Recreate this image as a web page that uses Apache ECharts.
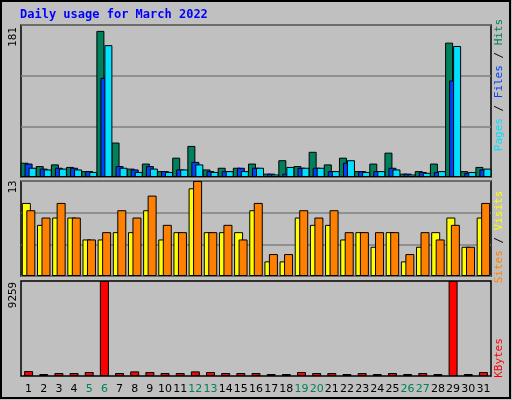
<!DOCTYPE html><html><head><meta charset="utf-8">
<script src="https://cdn.jsdelivr.net/npm/echarts@6/dist/echarts.min.js"></script>
<style>html,body{margin:0;padding:0;background:#c0c0c0}#c{width:512px;height:400px}</style></head><body><div id="c"></div>
<script>
const days=['1','2','3','4','5','6','7','8','9','10','11','12','13','14','15','16','17','18','19','20','21','22','23','24','25','26','27','28','29','30','31'];
const weekend=['5','6','12','13','19','20','26','27'];
const hits=[17,13,15,12,7,174,41,10,16,7,23,37,9,11,11,16,4,20,13,30,15,23,7,16,29,4,7,16,160,7,12];
const files=[16,10,11,11,7,118,13,9,13,7,9,18,7,7,11,11,4,4,11,11,7,17,7,7,11,4,6,6,115,5,9];
const pages=[11,9,10,9,6,157,11,6,10,6,9,15,6,7,7,11,3,12,11,11,7,20,6,7,9,3,5,7,156,6,10];
const visits=[10,7,8,8,5,5,6,6,9,5,6,12,6,6,6,9,2,2,8,7,7,5,6,4,6,2,4,6,8,4,8];
const sites=[9,8,10,8,5,6,9,8,11,7,6,13,6,7,5,10,3,3,9,8,9,6,6,6,6,3,6,5,7,4,10];
const kbytes=[480,160,290,290,390,9259,290,450,390,290,290,450,390,290,290,290,160,160,390,290,290,160,290,160,290,160,290,160,9259,160,390];
const maxTop=181,maxMid=13,maxBot=9259;
const font='DejaVu Sans Mono';
const ch=echarts.init(document.getElementById('c'));
const grids=[{top:25,height:152},{top:181,height:95},{top:281,height:95}];
const xAxes=grids.map((g,i)=>({type:'category',gridIndex:i,data:days,axisTick:{show:false},
 axisLine:{show:false},axisLabel:{show:i===2,interval:0,margin:8,fontFamily:'DejaVu Sans',fontSize:11,
 color:(v)=>weekend.includes(v)?'#00805c':'#000'}}));
const mk=(i,max)=>({type:'value',gridIndex:i,min:0,max:max,interval:max/3,axisLabel:{show:false},axisLine:{show:false},axisTick:{show:false},splitLine:{show:i<2,lineStyle:{color:'#808080',width:1.5}}});
const bs=(name,data,color,xi,w)=>({name,type:'bar',xAxisIndex:xi,yAxisIndex:xi,data,barWidth:w,barGap:'-50%',
 itemStyle:{color,borderColor:'#000',borderWidth:1},animation:false,silent:true});
const vt=(x,y,rich,parts)=>({type:'text',x,y,rotation:Math.PI/2,style:{text:parts,rich,fontFamily:font,fontSize:11,align:'center',verticalAlign:'middle'}});
ch.setOption({
 animation:false,
 grid:grids.map(g=>({left:21,right:21,top:g.top,height:g.height,show:true,backgroundColor:'#c0c0c0',borderColor:'#000',borderWidth:1.5})),
 xAxis:xAxes,
 yAxis:[mk(0,maxTop),mk(1,maxMid),mk(2,maxBot)],
 series:[bs('Hits',hits,'#00805c',0,8),bs('Files',files,'#0040ff',0,8),bs('Pages',pages,'#00e0ff',0,8),
  bs('Visits',visits,'#ffff00',1,9),bs('Sites',sites,'#ff8000',1,9),
  {name:'KBytes',type:'bar',xAxisIndex:2,yAxisIndex:2,data:kbytes,barWidth:9,barMinHeight:2,itemStyle:{color:'#ff0000',borderColor:'#000',borderWidth:1}}],
 graphic:[
  {type:'rect',shape:{x:1,y:1,width:509,height:397},style:{fill:'none',stroke:'#000',lineWidth:2},silent:true},
  {type:'text',x:20,y:9,style:{text:'Daily usage for March 2022',fontFamily:font,fontWeight:'bold',fontSize:12,fill:'#0000ff'}},
  vt(13,37,{},'181'),vt(13,187,{},'13'),vt(13,295,{},'9259'),
  vt(499,85,{p:{fill:'#00e0ff'},b:{fill:'#000'},f:{fill:'#0040ff'},h:{fill:'#00805c'}},'{p|Pages}{b| / }{f|Files}{b| / }{h|Hits}'),
  vt(499,237,{s:{fill:'#ff8000'},b:{fill:'#000'},v:{fill:'#ffff00'}},'{s|Sites}{b| / }{v|Visits}'),
  vt(499,358,{k:{fill:'#ff0000'}},'{k|KBytes}')
 ]
});
</script></body></html>
